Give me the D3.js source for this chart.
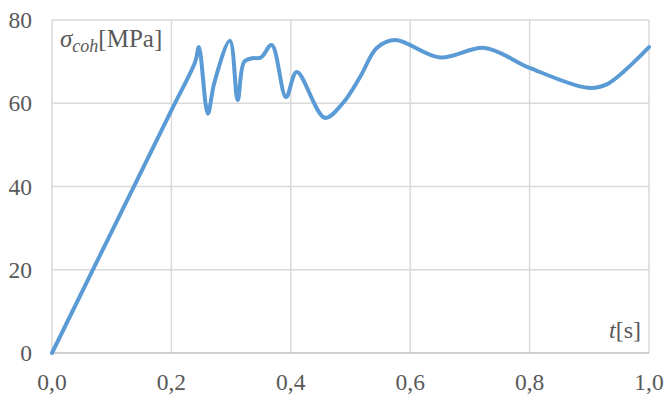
<!DOCTYPE html>
<html><head><meta charset="utf-8">
<script src="https://cdn.jsdelivr.net/npm/d3@7"></script>
<style>body{margin:0;background:#fff}svg{display:block}text{font-family:"Liberation Serif","Times New Roman",serif}</style>
</head><body>
<svg id="c" width="666" height="397"></svg>
<script>
const tValues = [0, 0.12, 0.2, 0.24, 0.246, 0.261, 0.272, 0.298, 0.311, 0.322, 0.335, 0.35, 0.368, 0.392, 0.41, 0.457, 0.487, 0.516, 0.544, 0.575, 0.65, 0.725, 0.80, 0.898, 0.93, 1.0];
const sigmaValues = [0, 35, 58.3, 70, 73.5, 57.5, 65, 75, 60.8, 70, 70.8, 71, 74, 61.5, 67.5, 56.5, 60, 66.3, 73.3, 75.2, 71, 73.3, 68.5, 63.7, 64.6, 73.5];
const xTicks = [0, 0.2, 0.4, 0.6, 0.8, 1.0];
const yTicks = [0, 20, 40, 60, 80];

const svg = d3.select("#c");
const x = d3.scaleLinear().domain([0, 1]).range([52, 649]);
const y = d3.scaleLinear().domain([0, 80]).range([353, 20]);
const txt = "#595959";

svg.append("g").selectAll("line").data(yTicks.filter(d => d > 0)).join("line")
  .attr("x1", x(0)).attr("x2", x(1)).attr("y1", d => y(d)).attr("y2", d => y(d))
  .attr("stroke", "#d9d9d9").attr("stroke-width", 1.5);
svg.append("g").selectAll("line").data(xTicks).join("line")
  .attr("x1", d => x(d)).attr("x2", d => x(d)).attr("y1", y(0)).attr("y2", y(80))
  .attr("stroke", "#d9d9d9").attr("stroke-width", 1.5);
svg.append("line").attr("x1", x(0)).attr("x2", x(1)).attr("y1", y(0)).attr("y2", y(0))
  .attr("stroke", "#bfbfbf").attr("stroke-width", 1.5);

svg.append("g").selectAll("text").data(yTicks).join("text")
  .attr("x", 32).attr("y", d => y(d)).attr("dy", "0.35em").attr("text-anchor", "end")
  .attr("font-size", 23.5).attr("fill", txt).text(d => d);
svg.append("g").selectAll("text").data(xTicks).join("text")
  .attr("x", d => x(d)).attr("y", 390).attr("text-anchor", "middle")
  .attr("font-size", 23.5).attr("fill", txt)
  .text(d => d.toFixed(1).replace(".", ","));

const pts = tValues.map((t, i) => [t, sigmaValues[i]]);
const line = d3.line().x(d => x(d[0])).y(d => y(d[1])).curve(d3.curveCatmullRom.alpha(0.5));
svg.append("path").attr("d", line(pts)).attr("fill", "none")
  .attr("stroke", "#5b9bd5").attr("stroke-width", 4).attr("stroke-linejoin", "round").attr("stroke-linecap", "round");

const yl = svg.append("text").attr("x", 60).attr("y", 47)
  .attr("font-size", 25).attr("fill", txt);
yl.append("tspan").attr("font-style", "italic").text("σ");
yl.append("tspan").attr("font-style", "italic").attr("font-size", 18).attr("dy", 5).text("coh");
yl.append("tspan").attr("dy", -5).text("[MPa]");

const xl = svg.append("text").attr("x", 641).attr("y", 338).attr("text-anchor", "end")
  .attr("font-size", 24).attr("fill", txt);
xl.append("tspan").attr("font-style", "italic").text("t");
xl.append("tspan").text("[s]");
</script>
</body></html>
